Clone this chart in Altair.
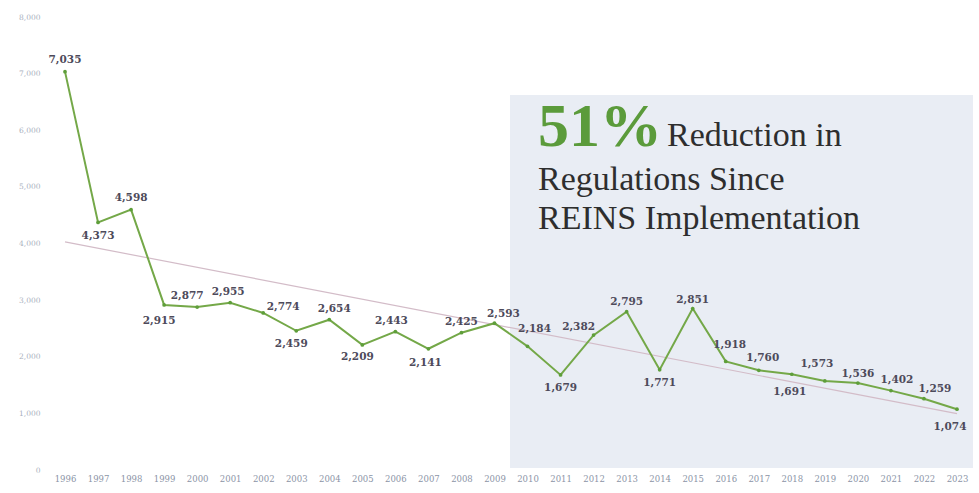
import altair as alt
import pandas as pd

years = list(range(1996, 2024))
counts = [7035, 4373, 4598, 2915, 2877, 2955, 2774, 2459, 2654, 2209,
          2443, 2141, 2425, 2593, 2184, 1679, 2382, 2795, 1771, 2851,
          1918, 1760, 1691, 1573, 1536, 1402, 1259, 1074]
y_ticks = [0, 1000, 2000, 3000, 4000, 5000, 6000, 7000, 8000]

headline_big = "51%"
headline_rest = "Reduction in"
headline_lines = ["Regulations Since", "REINS Implementation"]

# --- style: pixel offset of each value label from its point (dx, dy) ---
label_offsets = {
    1996: (0, -12), 1997: (0, 14), 1998: (0, -12), 1999: (-5, 16),
    2000: (-10, -11), 2001: (-2, -11), 2002: (20, -6), 2003: (-5, 13),
    2004: (5, -11), 2005: (-5, 12), 2006: (-4, -11), 2007: (-3, 14),
    2008: (0, -11), 2009: (9, -9), 2010: (7, -17), 2011: (0, 13),
    2012: (-15, -8), 2013: (0, -10), 2014: (0, 13), 2015: (0, -9),
    2016: (4, -16), 2017: (4, -12), 2018: (-2, 18), 2019: (-8, -17),
    2020: (0, -9), 2021: (6, -11), 2022: (11, -10), 2023: (-7, 18),
}

df = pd.DataFrame({"year": years, "count": counts})
df["label"] = df["count"].map(lambda v: f"{v:,}")
df["off"] = df["year"].map(lambda y: f"{label_offsets[y][0]}|{label_offsets[y][1]}")

W, H = 925, 453
xscale = alt.Scale(domain=[1995.546, 2023.545], nice=False, zero=False)
yscale = alt.Scale(domain=[0, 8000], nice=False)

xaxis = alt.Axis(values=years, format="d", domain=False, ticks=False, grid=False,
                 labelFont="DejaVu Serif", labelFontSize=8.5, labelColor="#8b94a6",
                 labelPadding=4, title=None, labelFlush=False, labelOverlap=False)
yaxis = alt.Axis(values=y_ticks, format=",d", domain=False, ticks=False, grid=False,
                 labelFont="DejaVu Serif", labelFontSize=7.5, labelColor="#a8b0bd",
                 labelPadding=10, title=None, labelOverlap=False)

X = alt.X("year:Q", scale=xscale, axis=xaxis)
Y = alt.Y("count:Q", scale=yscale, axis=yaxis)

base = alt.Chart(df)

shade = base.transform_filter("datum.year == 1996").mark_rect(color="#e9edf4").encode(
    x=alt.value(460), x2=alt.value(923), y=alt.value(78), y2=alt.value(451)
)

trend = base.transform_regression("year", "count", method="linear").mark_line(
    color="#d3bcc8", strokeWidth=1.2
).encode(x=X, y=Y)

line = base.mark_line(color="#74a848", strokeWidth=2).encode(x=X, y=Y)
pts = base.mark_circle(color="#5e9e3a", size=14, opacity=1).encode(x=X, y=Y)

labels = []
for key in sorted(set(df["off"])):
    dx, dy = (int(v) for v in key.split("|"))
    labels.append(
        base.transform_filter(alt.datum.off == key).mark_text(
            font="DejaVu Serif", fontSize=10.5, fontWeight="bold", color="#4d4a5a",
            dx=dx, dy=dy, baseline="middle", align="center"
        ).encode(x=X, y=Y, text="label:N")
    )

one = base.transform_filter("datum.year == 1996")
t_big = one.mark_text(font="Liberation Serif", fontSize=62, fontWeight="bold",
                      color="#5b9b3b", align="left", baseline="alphabetic").encode(
    x=alt.value(488), y=alt.value(129), text=alt.value(headline_big))
t_rest = one.mark_text(font="Liberation Serif", fontSize=34, color="#2e2e2e",
                       align="left", baseline="alphabetic").encode(
    x=alt.value(617), y=alt.value(129), text=alt.value(headline_rest))
t_l2 = one.mark_text(font="Liberation Serif", fontSize=34, color="#2e2e2e",
                     align="left", baseline="alphabetic").encode(
    x=alt.value(488), y=alt.value(173), text=alt.value(headline_lines[0]))
t_l3 = one.mark_text(font="Liberation Serif", fontSize=34, color="#2e2e2e",
                     align="left", baseline="alphabetic").encode(
    x=alt.value(488), y=alt.value(212), text=alt.value(headline_lines[1]))

chart = alt.layer(shade, trend, line, pts, *labels, t_big, t_rest, t_l2, t_l3).properties(
    width=W, height=H,
    background="white",
    autosize=alt.AutoSizeParams(type="none"),
    padding={"left": 50, "top": 17, "right": 4, "bottom": 23},
).configure_view(strokeWidth=0)

chart.save("out.html", embed_options={"renderer": "svg", "actions": False})
